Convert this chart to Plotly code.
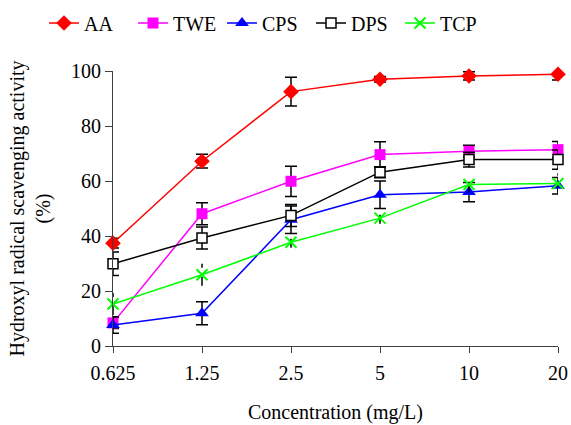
import plotly.graph_objects as go

categories = ["0.625", "1.25", "2.5", "5", "10", "20"]
series_names = ["AA", "TWE", "CPS", "DPS", "TCP"]
aa = [37.4, 67.2, 92.5, 97.0, 98.2, 98.8]
aa_err = [1.8, 2.5, 5.2, 1.0, 1.5, 2.1]
twe = [8.4, 48.1, 59.9, 69.6, 70.8, 71.4]
twe_err = [2.0, 4.0, 5.5, 4.7, 2.2, 3.0]
cps = [7.6, 11.9, 45.9, 55.0, 56.0, 58.3]
cps_err = [3.0, 4.2, 5.0, 5.0, 3.5, 3.0]
dps = [29.9, 39.3, 47.5, 63.2, 67.8, 67.8]
dps_err = [4.3, 4.0, 4.0, 2.0, 2.7, 3.5]
tcp = [15.3, 25.9, 37.7, 46.5, 58.7, 59.1]
tcp_err = [4.0, 4.0, 2.0, 2.0, 3.0, 3.7]

font_family = "Liberation Serif"
xi = list(range(len(categories)))

fig = go.Figure()

styles = [
    (aa, aa_err, "AA", "#FF0000", dict(symbol="diamond", size=12, color="#FF0000")),
    (twe, twe_err, "TWE", "#FF00FF", dict(symbol="square", size=11, color="#FF00FF")),
    (cps, cps_err, "CPS", "#0000FF", dict(symbol="triangle-up", size=12, color="#0000FF")),
    (dps, dps_err, "DPS", "#000000", dict(symbol="square", size=10, color="white",
                                          line=dict(color="black", width=1.5))),
]
for vals, errs, name, col, mk in styles:
    fig.add_trace(go.Scatter(
        x=xi, y=vals, name=name, mode="lines+markers",
        line=dict(color=col, width=1.5), marker=mk,
        error_y=dict(type="data", array=errs, visible=True, color="black",
                     thickness=1.5, width=6),
        cliponaxis=False,
    ))

# TCP dashed error bars (no caps)
ex, ey = [], []
for i, (v, e) in enumerate(zip(tcp, tcp_err)):
    ex += [i, i, None]
    ey += [v - e, v + e, None]
fig.add_trace(go.Scatter(x=ex, y=ey, mode="lines", showlegend=False,
                         line=dict(color="black", width=1.5, dash="dash"),
                         hoverinfo="skip", cliponaxis=False))
fig.add_trace(go.Scatter(
    x=xi, y=tcp, name="TCP", mode="lines+markers",
    line=dict(color="#00FF00", width=1.5),
    marker=dict(symbol="x-thin-open", size=11, color="#00FF00",
                line=dict(color="#00FF00", width=2)),
    cliponaxis=False,
))

fig.update_layout(
    width=571, height=425,
    margin=dict(l=113, r=13, t=71, b=79),
    paper_bgcolor="white", plot_bgcolor="white",
    font=dict(family=font_family, size=20, color="black"),
    showlegend=True,
    legend=dict(orientation="h", xref="container", yref="container",
                x=44 / 571, xanchor="left", y=1 - 23 / 425, yanchor="middle",
                font=dict(size=20), itemwidth=30, tracegroupgap=0,
                entrywidth=44, entrywidthmode="pixels",
                bgcolor="rgba(0,0,0,0)"),
    xaxis=dict(
        tickmode="array", tickvals=xi, ticktext=categories,
        range=[0, len(categories) - 1], showgrid=False, zeroline=False,
        showline=True, linecolor="#404040", linewidth=1.2,
        ticks="outside", ticklen=6, tickcolor="#404040",
        ticklabelstandoff=3, automargin=False,
        title=dict(text="Concentration (mg/L)", standoff=21, font=dict(size=20)),
    ),
    yaxis=dict(
        range=[0, 100], tickvals=[0, 20, 40, 60, 80, 100],
        showgrid=False, zeroline=False, automargin=False,
        showline=True, linecolor="#404040", linewidth=1.2,
        ticks="outside", ticklen=7, tickcolor="#404040",
        title=dict(text="Hydroxyl radical scavenging activity<br>(%)", standoff=14,
                   font=dict(size=20)),
    ),
)

fig.write_html("out.html", config={"displayModeBar": False},
               post_script="document.body.style.margin='0px';")
